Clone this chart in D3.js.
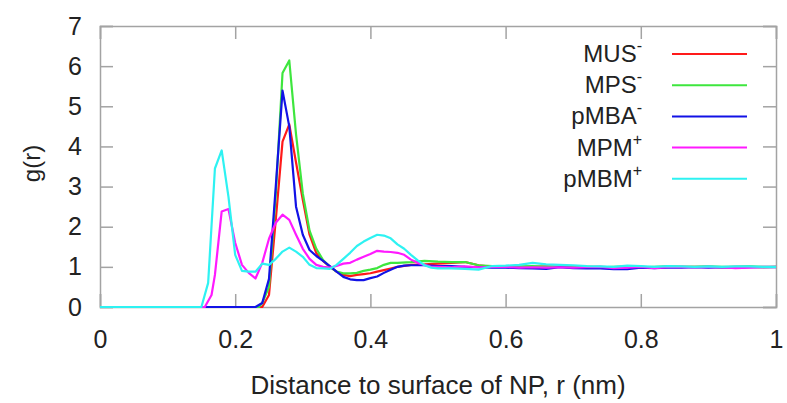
<!DOCTYPE html>
<html>
<head>
<meta charset="utf-8">
<script src="https://d3js.org/d3.v7.min.js"></script>
<style>
  body { margin: 0; background: #fff; overflow: hidden; }
  svg { display: block; }
  text { font-family: "Liberation Sans", Arial, sans-serif; fill: #222; }
</style>
</head>
<body>
<div id="chart"></div>
<script>
//series data, [r, g(r)] pairs
var mus = [[0,0],[0.24,0],[0.25,0.3],[0.26,2.17],[0.27,4.12],[0.28,4.55],[0.29,3.6],[0.30,2.67],[0.31,1.8],[0.32,1.34],[0.33,1.15],[0.34,1.0],[0.35,0.88],[0.36,0.8],[0.37,0.77],[0.38,0.8],[0.39,0.82],[0.40,0.84],[0.41,0.88],[0.42,0.92],[0.43,0.96],[0.44,1.0],[0.46,1.05],[0.48,1.06],[0.50,1.08],[0.52,1.1],[0.54,1.12],[0.56,1.04],[0.58,1.0],[0.60,1.0],[0.62,0.99],[0.64,1.0],[0.66,1.01],[0.68,1.0],[0.70,0.99],[0.72,1.0],[0.74,1.0],[0.76,0.99],[0.78,1.0],[0.80,1.0],[0.82,0.99],[0.84,1.0],[0.86,1.0],[0.88,1.0],[0.90,1.0],[0.92,0.99],[0.94,1.0],[0.96,1.0],[0.98,0.99],[1.0,1.0]];

var mps = [[0,0],[0.235,0],[0.24,0.1],[0.25,0.5],[0.26,2.8],[0.27,5.83],[0.28,6.14],[0.29,4.3],[0.30,2.83],[0.31,1.9],[0.32,1.45],[0.33,1.17],[0.34,1.0],[0.35,0.88],[0.36,0.84],[0.37,0.84],[0.38,0.85],[0.39,0.9],[0.40,0.93],[0.41,0.97],[0.42,1.05],[0.43,1.1],[0.44,1.1],[0.46,1.12],[0.48,1.15],[0.50,1.13],[0.52,1.12],[0.54,1.12],[0.56,1.04],[0.58,1.02],[0.60,1.0],[0.62,1.01],[0.64,1.02],[0.66,1.0],[0.68,1.0],[0.70,0.99],[0.72,1.0],[0.74,0.99],[0.76,1.0],[0.78,1.01],[0.80,0.99],[0.82,1.0],[0.84,1.01],[0.86,1.0],[0.88,1.0],[0.90,1.01],[0.92,1.0],[0.94,1.0],[0.96,1.01],[0.98,1.0],[1.0,1.0]];

var pmba = [[0,0],[0.23,0],[0.24,0.1],[0.25,0.7],[0.26,3.0],[0.27,5.39],[0.28,4.5],[0.29,2.5],[0.30,1.8],[0.31,1.42],[0.32,1.27],[0.33,1.15],[0.34,1.02],[0.35,0.88],[0.36,0.75],[0.37,0.69],[0.38,0.67],[0.39,0.67],[0.40,0.72],[0.41,0.76],[0.42,0.85],[0.43,0.93],[0.44,1.0],[0.45,1.03],[0.46,1.04],[0.48,1.04],[0.50,1.02],[0.52,1.02],[0.54,1.0],[0.56,0.99],[0.58,0.98],[0.60,0.98],[0.62,0.97],[0.64,0.96],[0.66,0.95],[0.68,0.99],[0.70,0.97],[0.72,0.96],[0.74,0.96],[0.76,0.94],[0.78,0.94],[0.80,0.98],[0.82,0.97],[0.84,0.98],[0.86,0.98],[0.88,0.99],[0.90,0.98],[0.92,0.99],[0.94,0.98],[0.96,0.99],[0.98,0.99],[1.0,0.99]];

var mpm = [[0,0],[0.155,0],[0.165,0.3],[0.17,0.8],[0.18,2.38],[0.19,2.44],[0.20,1.6],[0.21,1.05],[0.22,0.85],[0.23,0.71],[0.24,1.1],[0.25,1.7],[0.26,2.1],[0.27,2.3],[0.28,2.17],[0.29,1.8],[0.30,1.45],[0.31,1.2],[0.32,1.05],[0.33,1.0],[0.34,0.98],[0.35,1.02],[0.36,1.08],[0.37,1.1],[0.38,1.18],[0.39,1.25],[0.40,1.32],[0.41,1.4],[0.42,1.38],[0.43,1.37],[0.44,1.35],[0.45,1.3],[0.46,1.18],[0.47,1.1],[0.48,1.05],[0.49,1.0],[0.50,1.0],[0.52,0.99],[0.54,1.01],[0.56,0.99],[0.58,1.0],[0.60,1.0],[0.62,0.98],[0.64,0.99],[0.66,0.98],[0.68,0.99],[0.70,0.98],[0.72,0.99],[0.74,1.0],[0.76,0.97],[0.78,0.98],[0.80,1.0],[0.82,0.97],[0.84,0.99],[0.86,1.0],[0.88,0.99],[0.90,1.0],[0.92,0.99],[0.94,0.97],[0.96,0.98],[0.98,1.0],[1.0,1.0]];

var pmbm = [[0,0],[0.15,0],[0.16,0.6],[0.17,3.45],[0.18,3.9],[0.19,2.75],[0.20,1.3],[0.21,0.9],[0.22,0.88],[0.23,0.88],[0.24,1.08],[0.25,1.05],[0.26,1.2],[0.27,1.38],[0.28,1.48],[0.29,1.38],[0.30,1.25],[0.31,1.05],[0.32,0.97],[0.33,0.96],[0.34,0.95],[0.35,1.05],[0.36,1.2],[0.37,1.35],[0.38,1.52],[0.39,1.63],[0.40,1.72],[0.41,1.8],[0.42,1.78],[0.43,1.71],[0.44,1.56],[0.45,1.45],[0.46,1.30],[0.47,1.16],[0.48,1.04],[0.49,0.98],[0.50,0.96],[0.52,0.96],[0.54,0.95],[0.56,0.93],[0.58,1.02],[0.60,1.03],[0.62,1.05],[0.64,1.1],[0.66,1.06],[0.68,1.05],[0.70,1.04],[0.72,1.02],[0.74,1.01],[0.76,1.0],[0.78,1.03],[0.80,1.02],[0.82,1.0],[0.84,1.02],[0.86,1.01],[0.88,1.0],[0.90,1.01],[0.92,1.0],[0.94,1.01],[0.96,1.01],[0.98,1.0],[1.0,1.0]];

//legend names, superscripts and colours
var names = ["MUS", "MPS", "pMBA", "MPM", "pMBM"];
var charges = ["-", "-", "-", "+", "+"];
var colors = ["#ff1a1a", "#3ee63e", "#1212e6", "#ff1aff", "#2ef2f2"];
var seriesList = [mus, mps, pmba, mpm, pmbm];

//tick values
var xTicks = [0, 0.2, 0.4, 0.6, 0.8, 1];
var yTicks = [0, 1, 2, 3, 4, 5, 6, 7];

var outerWidth = 787;
var outerHeight = 403;
var margin = { top: 26, right: 11, bottom: 96, left: 100 };
var innerWidth = outerWidth - (margin.left + margin.right);
var innerHeight = outerHeight - (margin.top + margin.bottom);

var svg = d3
  .select("#chart")
  .append("svg")
  .attr("width", outerWidth)
  .attr("height", outerHeight)
  .append("g")
  .attr("transform", "translate(" + margin.left + "," + margin.top + ")");

//scales
var xScale = d3.scaleLinear().domain([0, 1]).range([0, innerWidth]);
var yScale = d3.scaleLinear().domain([0, 7]).range([innerHeight, 0]);

var frameColor = "#a3a3a3";
var tickLen = 13;

//axes with inward ticks on all four sides
var xAxisBottom = d3.axisBottom(xScale).tickValues(xTicks).tickSize(-tickLen).tickPadding(23)
  .tickFormat(function(d) { return d === 0 || d === 1 ? d3.format("d")(d) : d3.format(".1f")(d); });
var xAxisTop = d3.axisTop(xScale).tickValues(xTicks).tickSize(-tickLen);
var yAxisLeft = d3.axisLeft(yScale).tickValues(yTicks).tickSize(-tickLen).tickPadding(18)
  .tickFormat(d3.format("d"));
var yAxisRight = d3.axisRight(yScale).tickValues(yTicks).tickSize(-tickLen);

svg.append("g").attr("class", "axis").attr("transform", "translate(0," + innerHeight + ")").call(xAxisBottom);
svg.append("g").attr("class", "axis mirror").call(xAxisTop);
svg.append("g").attr("class", "axis").call(yAxisLeft);
svg.append("g").attr("class", "axis mirror").attr("transform", "translate(" + innerWidth + ",0)").call(yAxisRight);

//mirror axes only carry tick marks
svg.selectAll(".mirror text").remove();

svg.selectAll(".axis .domain").style("stroke", frameColor).style("stroke-width", 1.5);
svg.selectAll(".axis line").style("stroke", frameColor).style("stroke-width", 1.5);
svg.selectAll(".axis text")
  .style("font-family", "'Liberation Sans', Arial, sans-serif")
  .style("font-size", "25px")
  .style("fill", "#222");

//axis titles
svg.append("text")
  .attr("x", innerWidth / 2)
  .attr("y", innerHeight + 87)
  .attr("text-anchor", "middle")
  .style("font-size", "26px")
  .text("Distance to surface of NP, r (nm)");

svg.append("text")
  .attr("transform", "translate(" + (-60) + "," + (innerHeight / 2 - 3) + ") rotate(-90)")
  .attr("text-anchor", "middle")
  .style("font-size", "24px")
  .text("g(r)");

//lines
var line = d3.line()
  .x(function(d) { return xScale(d[0]); })
  .y(function(d) { return yScale(d[1]); });

seriesList.forEach(function(series, i) {
  svg.append("path")
    .datum(series)
    .attr("d", line)
    .attr("fill", "none")
    .style("stroke", colors[i])
    .style("stroke-width", 2.2)
    .style("stroke-linejoin", "round");
});

//legend
var legend = svg.append("g").attr("transform", "translate(" + 542 + ",0)");
names.forEach(function(name, i) {
  var yRow = 28 + i * 31.2;
  var label = legend.append("text")
    .attr("x", 0)
    .attr("y", yRow + 8)
    .attr("text-anchor", "end")
    .style("font-size", "24px");
  label.append("tspan").text(name);
  label.append("tspan")
    .attr("dy", -11)
    .style("font-size", "16px")
    .text(charges[i]);

  legend.append("line")
    .attr("x1", 30)
    .attr("x2", 105)
    .attr("y1", yRow)
    .attr("y2", yRow)
    .style("stroke", colors[i])
    .style("stroke-width", 2);
});
</script>
</body>
</html>
